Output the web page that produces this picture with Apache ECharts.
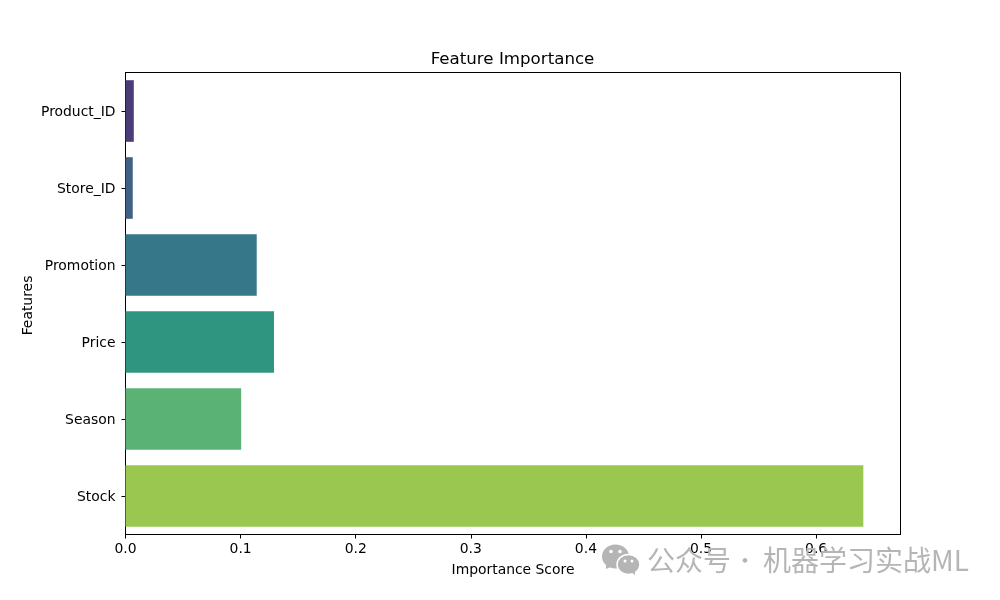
<!DOCTYPE html>
<html>
<head>
<meta charset="utf-8">
<style>html,body{margin:0;padding:0;background:#fff}#c{width:1000px;height:600px}</style>
<script src="https://cdn.jsdelivr.net/npm/echarts@6/dist/echarts.min.js"></script>
</head>
<body>
<div id="c"></div>
<script>
var features = ['Product_ID', 'Store_ID', 'Promotion', 'Price', 'Season', 'Stock'];
var importance = [0.0072, 0.0063, 0.114, 0.129, 0.1005, 0.641];
var barColors = ['#4b3b76', '#416086', '#36778a', '#2f9580', '#5ab374', '#9ac750'];
var xTicks = [0, 0.1, 0.2, 0.3, 0.4, 0.5, 0.6];
var xMax = 0.6733;
var fontFamily = '"DejaVu Sans", sans-serif';
var wmColor = '#b5b5b5';
var wmFont = '28px "Noto Sans CJK SC", sans-serif';

var chart = echarts.init(document.getElementById('c'), null, {renderer: 'canvas'});
chart.setOption({
  animation: false,
  backgroundColor: '#fff',
  textStyle: {fontFamily: fontFamily},
  title: {
    text: 'Feature Importance', left: 507.5, top: 46, textAlign: 'center',
    textStyle: {fontFamily: fontFamily, fontSize: 16.67, fontWeight: 'normal', color: '#000'}
  },
  grid: {left: 125.5, right: 99.5, top: 72.5, bottom: 65.5, show: true, borderColor: '#000', borderWidth: 1, backgroundColor: 'transparent'},
  xAxis: {
    type: 'value', min: 0, max: xMax,
    name: 'Importance Score', nameLocation: 'middle', nameGap: 29,
    nameTextStyle: {fontFamily: fontFamily, fontSize: 13.9, color: '#000'},
    axisLine: {show: true, onZero: false, lineStyle: {color: '#000', width: 1}},
    axisTick: {show: true, length: 4, lineStyle: {color: '#000', width: 1}, customValues: xTicks},
    axisLabel: {color: '#000', fontFamily: fontFamily, fontSize: 13.9, margin: 8, customValues: xTicks, formatter: function (v) { return v === 0 ? '0.0' : String(v); }},
    splitLine: {show: false}
  },
  yAxis: {
    type: 'category', inverse: true, data: features,
    name: 'Features', nameLocation: 'middle', nameGap: 90, nameMoveOverlap: false,
    nameTextStyle: {fontFamily: fontFamily, fontSize: 13.9, color: '#000', padding: [0, 4, 0, 0]},
    axisLine: {show: true, onZero: false, lineStyle: {color: '#000', width: 1}},
    axisTick: {show: true, alignWithLabel: true, length: 4, lineStyle: {color: '#000', width: 1}},
    axisLabel: {color: '#000', fontFamily: fontFamily, fontSize: 13.9, margin: 10, verticalAlign: 'top', lineHeight: 3},
    splitLine: {show: false}
  },
  series: [{
    type: 'bar',
    barWidth: '80%',
    data: importance.map(function (v, i) { return {value: v, itemStyle: {color: barColors[i]}}; }),
    silent: true
  }],
  graphic: [
    {type: 'text', z: 100, left: 647, top: 546, style: {text: '公众号', fill: wmColor, font: wmFont}},
    {type: 'text', z: 100, left: 734, top: 549, style: {text: '·', fill: wmColor, font: '22px "Noto Sans CJK SC", sans-serif'}},
    {type: 'text', z: 100, left: 763, top: 546, style: {text: '机器学习实战ML', fill: wmColor, font: wmFont}},
    {type: 'ellipse', z: 100, shape: {cx: 615.5, cy: 556.5, rx: 13.5, ry: 12}, style: {fill: wmColor}},
    {type: 'polygon', z: 100, shape: {points: [[606, 563], [606, 569], [613, 566]]}, style: {fill: wmColor}},
    {type: 'ellipse', z: 100, shape: {cx: 628.5, cy: 564.5, rx: 11.5, ry: 10}, style: {fill: wmColor, stroke: '#fff', lineWidth: 1.5}},
    {type: 'polygon', z: 100, shape: {points: [[631, 572], [635, 575], [635, 570]]}, style: {fill: wmColor}},
    {type: 'circle', z: 101, shape: {cx: 611, cy: 551.5, r: 1.8}, style: {fill: '#fff'}},
    {type: 'circle', z: 101, shape: {cx: 620, cy: 551.5, r: 1.8}, style: {fill: '#fff'}},
    {type: 'circle', z: 101, shape: {cx: 625, cy: 561, r: 1.5}, style: {fill: '#fff'}},
    {type: 'circle', z: 101, shape: {cx: 632, cy: 561, r: 1.5}, style: {fill: '#fff'}}
  ]
});
</script>
</body>
</html>
